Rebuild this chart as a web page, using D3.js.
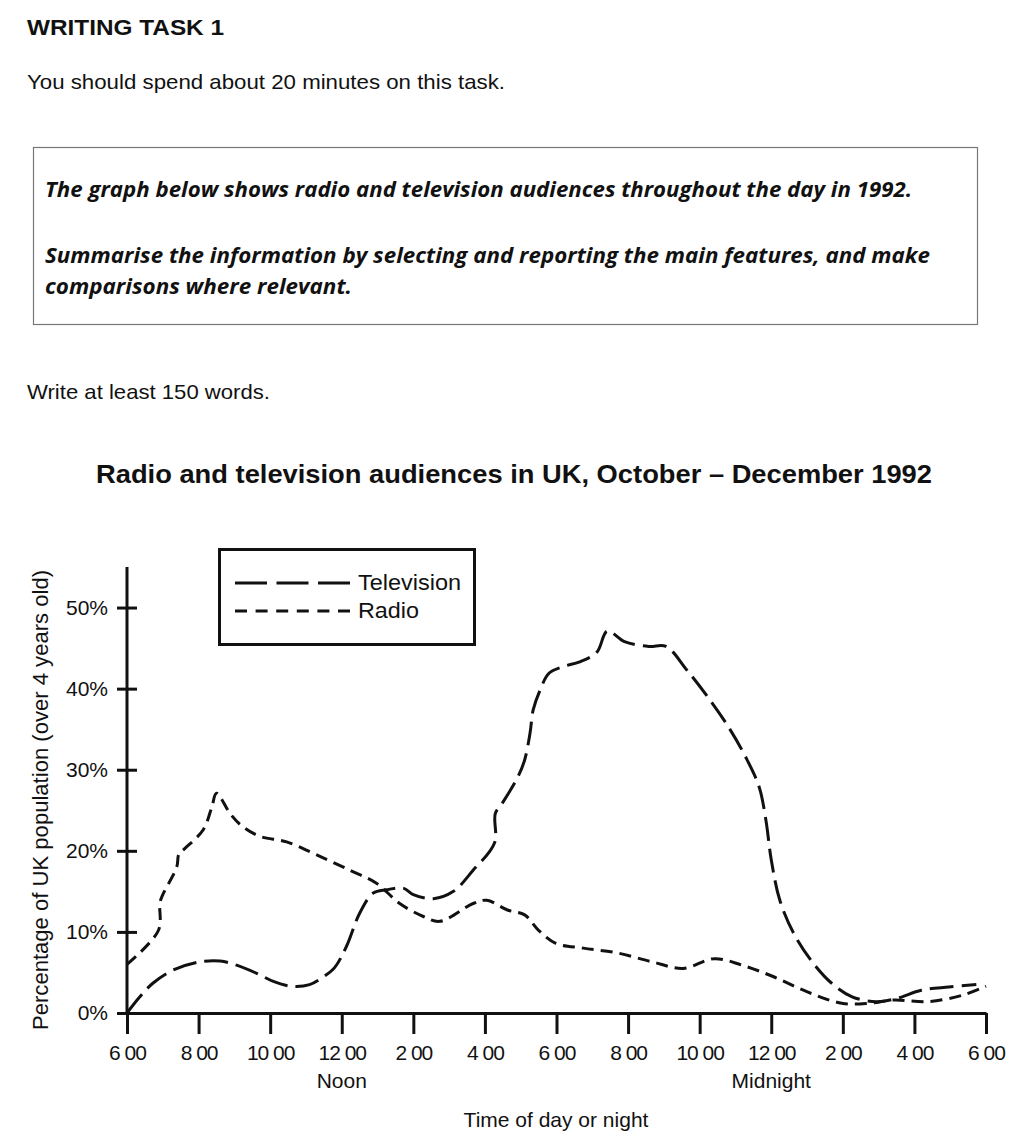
<!DOCTYPE html>
<html>
<head>
<meta charset="utf-8">
<title>Radio and television audiences</title>
<style>
body { margin: 0; background: #fff; }
text { font-family: "Liberation Sans", Arial, sans-serif; fill: #111; }
text.task { font-family: "Open Sans", sans-serif; font-weight: bold; font-style: italic; }
.axis path, .axis line { stroke: #111; stroke-width: 3px; }
.axis text { font-size: 21px; }
path.line { fill: none; stroke: #111; stroke-width: 3px; }
</style>
</head>
<body>
<script src="https://cdn.jsdelivr.net/npm/d3@7"></script>
<script>
// hours after 6:00 am, and % of UK population (over 4)
var tvHours = [0, 0.36, 0.73, 1.29, 2.04, 2.6, 3.06, 3.62, 4.09, 4.6, 5.1, 5.5, 5.8, 6.13, 6.5, 6.88, 7.25, 7.72, 8.0, 8.56, 9.12, 9.67, 10.27, 10.29, 10.49, 10.92, 11.11, 11.26, 11.35, 11.54, 11.79, 12.17, 12.65, 13.13, 13.42, 13.9, 14.58, 15.06, 15.64, 16.22, 16.8, 17.28, 17.66, 17.85, 18.0, 18.24, 18.63, 19.11, 19.68, 20.26, 20.94, 21.51, 22.19, 22.96, 23.73];
var tvValues = [0, 2.0, 3.7, 5.3, 6.3, 6.4, 5.9, 4.9, 3.9, 3.3, 3.5, 4.5, 5.6, 8.2, 12.3, 14.8, 15.2, 15.4, 14.6, 14.1, 15.0, 17.6, 21.0, 24.6, 25.9, 29.1, 31.2, 34.5, 37.4, 39.8, 41.9, 42.7, 43.3, 44.5, 47.1, 45.8, 45.2, 45.2, 42.3, 39.0, 35.3, 31.6, 27.9, 23.8, 18.9, 13.9, 9.8, 6.5, 3.7, 2.0, 1.4, 1.8, 2.8, 3.2, 3.5];

var radioHours = [0, 0.88, 0.92, 1.0, 1.39, 1.45, 1.62, 2.13, 2.37, 2.5, 2.88, 3.2, 3.7, 4.46, 5.3, 6.23, 6.97, 7.62, 8.28, 8.74, 9.67, 10.05, 10.63, 11.11, 11.5, 11.98, 12.75, 13.71, 14.68, 15.54, 16.41, 17.18, 18.05, 19.01, 19.97, 20.74, 21.42, 22.38, 23.35, 24];
var radioValues = [6.0, 10.2, 13.6, 14.6, 18.0, 19.6, 20.3, 22.6, 25.4, 27.1, 24.6, 23.1, 21.8, 21.1, 19.5, 17.6, 16.0, 13.5, 11.9, 11.3, 13.5, 13.9, 12.7, 12.1, 10.2, 8.6, 8.0, 7.4, 6.3, 5.5, 6.7, 5.9, 4.5, 2.6, 1.2, 1.2, 1.6, 1.4, 2.2, 3.3];

var tickHours = [0, 2, 4, 6, 8, 10, 12, 14, 16, 18, 20, 22, 24];
var tickLabels = ["6 00", "8 00", "10 00", "12 00", "2 00", "4 00", "6 00", "8 00", "10 00", "12 00", "2 00", "4 00", "6 00"];
var yTicks = [0, 10, 20, 30, 40, 50];

var width = 1028, height = 1145;

var svg = d3.select("body").append("svg")
  .attr("width", width)
  .attr("height", height);

// task header
svg.append("text").attr("x", 27).attr("y", 35)
  .style("font-size", "22px").style("font-weight", "bold")
  .attr("textLength", 197).attr("lengthAdjust", "spacingAndGlyphs")
  .text("WRITING TASK 1");
svg.append("text").attr("x", 27).attr("y", 89)
  .style("font-size", "21px")
  .attr("textLength", 478).attr("lengthAdjust", "spacingAndGlyphs")
  .text("You should spend about 20 minutes on this task.");

svg.append("rect")
  .attr("x", 33.5).attr("y", 147.5).attr("width", 944).attr("height", 177)
  .attr("fill", "none").attr("stroke", "#777").attr("stroke-width", 1.2);

var taskLines = [
  {t: "The graph below shows radio and television audiences throughout the day in 1992.", y: 197, w: 867},
  {t: "Summarise the information by selecting and reporting the main features, and make", y: 263, w: 885},
  {t: "comparisons where relevant.", y: 294, w: 307}
];
taskLines.forEach(function(d) {
  svg.append("text").attr("class", "task")
    .attr("x", 45).attr("y", d.y)
    .style("font-size", "21px")
    .attr("textLength", d.w).attr("lengthAdjust", "spacingAndGlyphs")
    .text(d.t);
});

svg.append("text").attr("x", 27).attr("y", 399)
  .style("font-size", "21px")
  .attr("textLength", 243).attr("lengthAdjust", "spacingAndGlyphs")
  .text("Write at least 150 words.");

// chart title
svg.append("text").attr("x", 96).attr("y", 483)
  .style("font-size", "26px").style("font-weight", "bold")
  .attr("textLength", 836).attr("lengthAdjust", "spacingAndGlyphs")
  .text("Radio and television audiences in UK, October \u2013 December 1992");

var x = d3.scaleLinear().domain([0, 24]).range([127, 986]);
var y = d3.scaleLinear().domain([0, 55]).range([1013, 567]);

// x axis
var xAxis = svg.append("g").attr("class", "axis")
  .attr("transform", "translate(0," + y(0) + ")")
  .call(d3.axisBottom(x).tickValues(tickHours).tickSize(21).tickSizeOuter(0).tickPadding(11)
    .tickFormat(function(d, i) { return tickLabels[i]; }));
xAxis.selectAll("text").attr("dy", "0.71em").style("letter-spacing", "-1px");

// y axis, ticks cross the axis line
var yAxis = svg.append("g").attr("class", "axis")
  .attr("transform", "translate(" + x(0) + ",0)")
  .call(d3.axisLeft(y).tickValues(yTicks).tickSize(10).tickPadding(9)
    .tickFormat(function(d) { return d + "%"; }));
yAxis.select(".domain").remove();
yAxis.selectAll(".tick").append("line").attr("x2", 10);
yAxis.append("line").attr("y1", 567).attr("y2", y(0));

// lines
var line = d3.line()
  .x(function(d) { return x(d[0]); })
  .y(function(d) { return y(d[1]); })
  .curve(d3.curveCatmullRom.alpha(0.5));

svg.append("path").attr("class", "line")
  .attr("d", line(d3.zip(tvHours, tvValues)))
  .attr("stroke-dasharray", "24,8");
svg.append("path").attr("class", "line")
  .attr("d", line(d3.zip(radioHours, radioValues)))
  .attr("stroke-dasharray", "12,7");

// axis titles
svg.append("text")
  .attr("transform", "translate(48,800) rotate(-90)")
  .attr("text-anchor", "middle")
  .style("font-size", "22px")
  .attr("textLength", 460).attr("lengthAdjust", "spacingAndGlyphs")
  .text("Percentage of UK population (over 4 years old)");

svg.append("text").attr("x", x(6)).attr("y", 1088)
  .attr("text-anchor", "middle").style("font-size", "21px").text("Noon");
svg.append("text").attr("x", x(18)).attr("y", 1088)
  .attr("text-anchor", "middle").style("font-size", "21px").text("Midnight");
svg.append("text").attr("x", 556).attr("y", 1127)
  .attr("text-anchor", "middle").style("font-size", "21px").text("Time of day or night");

// legend
var legend = svg.append("g");
legend.append("rect")
  .attr("x", 219.5).attr("y", 549.5).attr("width", 255).attr("height", 95)
  .attr("fill", "#fff").attr("stroke", "#111").attr("stroke-width", 3);
legend.append("line")
  .attr("x1", 235).attr("x2", 350).attr("y1", 583).attr("y2", 583)
  .attr("stroke", "#111").attr("stroke-width", 3).attr("stroke-dasharray", "32,9.5");
legend.append("line")
  .attr("x1", 235).attr("x2", 350).attr("y1", 611).attr("y2", 611)
  .attr("stroke", "#111").attr("stroke-width", 3).attr("stroke-dasharray", "12,8.6");
legend.append("text").attr("x", 358).attr("y", 590).style("font-size", "22px")
  .attr("textLength", 103).attr("lengthAdjust", "spacingAndGlyphs").text("Television");
legend.append("text").attr("x", 358).attr("y", 618).style("font-size", "22px")
  .attr("textLength", 61).attr("lengthAdjust", "spacingAndGlyphs").text("Radio");
</script>
</body>
</html>
